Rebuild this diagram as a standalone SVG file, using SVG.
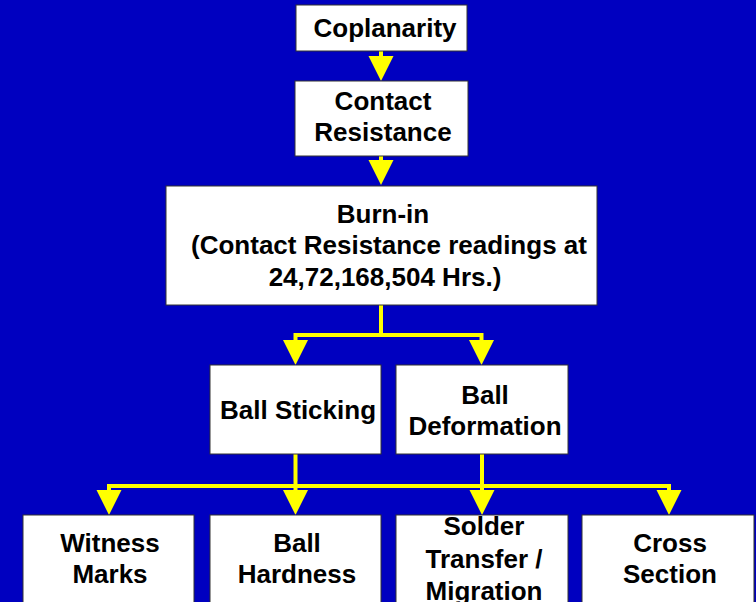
<svg xmlns="http://www.w3.org/2000/svg" width="756" height="602" viewBox="0 0 756 602">
  <style>
    .box { fill: #ffffff; stroke: #333333; stroke-width: 1; }
    .lbl { font-family: "Liberation Sans", Arial, sans-serif; font-weight: bold; font-size: 26px; fill: #000000; text-anchor: middle; }
    .wire { fill: none; stroke: #ffff00; stroke-width: 4; stroke-linejoin: miter; }
  </style>
  <defs>
    <marker id="head" markerUnits="userSpaceOnUse" markerWidth="25" markerHeight="26" refX="0" refY="12.5" orient="auto" overflow="visible">
      <path d="M0,0 L25,12.5 L0,25 z" fill="#ffff00"/>
    </marker>
  </defs>

  <rect width="756" height="602" fill="#0000c0"/>

  <g id="connectors">
    <path class="wire" d="M381,51 V56" marker-end="url(#head)"/>
    <path class="wire" d="M381,156 V160" marker-end="url(#head)"/>
    <path class="wire" d="M381,305 V335 H295.5 V340" marker-end="url(#head)"/>
    <path class="wire" d="M381,335 H481.5 V340" marker-end="url(#head)"/>
    <path class="wire" d="M295.5,454 V486 H109 V490" marker-end="url(#head)"/>
    <path class="wire" d="M295.5,486 V490" marker-end="url(#head)"/>
    <path class="wire" d="M295.5,486 H482 V490" marker-end="url(#head)"/>
    <path class="wire" d="M482,454 V486 H669 V490" marker-end="url(#head)"/>
  </g>

  <g id="coplanarity">
    <rect class="box" x="296" y="5" width="171" height="46"/>
    <text class="lbl" x="385" y="37">Coplanarity</text>
  </g>

  <g id="contact-resistance">
    <rect class="box" x="295" y="81" width="173" height="75"/>
    <text class="lbl" x="383" y="110">Contact</text>
    <text class="lbl" x="383" y="141">Resistance</text>
  </g>

  <g id="burn-in">
    <rect class="box" x="166" y="186" width="431" height="119"/>
    <text class="lbl" x="383" y="223">Burn-in</text>
    <text class="lbl" x="389" y="254"> (Contact Resistance readings at</text>
    <text class="lbl" x="385" y="286">24,72,168,504 Hrs.)</text>
  </g>

  <g id="ball-sticking">
    <rect class="box" x="210" y="365" width="171" height="89"/>
    <text class="lbl" x="298" y="419">Ball Sticking</text>
  </g>

  <g id="ball-deformation">
    <rect class="box" x="396" y="365" width="172" height="89"/>
    <text class="lbl" x="485" y="404">Ball</text>
    <text class="lbl" x="485" y="435">Deformation</text>
  </g>

  <g id="witness-marks">
    <rect class="box" x="23" y="515" width="171" height="100"/>
    <text class="lbl" x="110" y="552">Witness</text>
    <text class="lbl" x="110" y="583">Marks</text>
  </g>

  <g id="ball-hardness">
    <rect class="box" x="210" y="515" width="171" height="100"/>
    <text class="lbl" x="297" y="552">Ball</text>
    <text class="lbl" x="297" y="583">Hardness</text>
  </g>

  <g id="solder-transfer">
    <rect class="box" x="396" y="515" width="172" height="100"/>
    <text class="lbl" x="484" y="535">Solder</text>
    <text class="lbl" x="484" y="568">Transfer /</text>
    <text class="lbl" x="484" y="600">Migration</text>
  </g>

  <g id="cross-section">
    <rect class="box" x="582" y="515" width="172" height="100"/>
    <text class="lbl" x="670" y="552">Cross</text>
    <text class="lbl" x="670" y="583">Section</text>
  </g>
</svg>
